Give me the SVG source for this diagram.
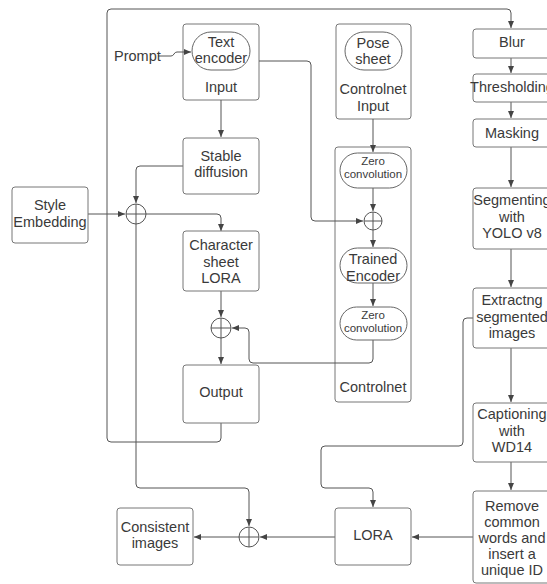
<svg xmlns="http://www.w3.org/2000/svg" width="547" height="584" viewBox="0 0 547 584">
<style>
.box{fill:#fff;stroke:#777;stroke-width:1}
.cont{fill:none;stroke:#777;stroke-width:1}
.ell{fill:#fff;stroke:#666;stroke-width:1}
.ln{fill:none;stroke:#555;stroke-width:1}
.sum{fill:#fff;stroke:#555;stroke-width:1}
text{font-family:"Liberation Sans",Arial,sans-serif;font-size:14.5px;fill:#3a3a3a;text-anchor:middle}
.sm{font-size:11.5px}
.lt{text-anchor:start}
</style>
<defs>
<marker id="ah" markerWidth="8" markerHeight="8" refX="7" refY="4" orient="auto" markerUnits="userSpaceOnUse">
<path d="M0,1 L7,4 L0,7 z" fill="#444"/>
</marker>
</defs>
<rect width="547" height="584" fill="#fff"/>

<g id="input">
<rect class="cont" x="183" y="24" width="76" height="76" rx="3"/>
<text x="221" y="92">Input</text>
</g>
<g id="controlnet-input">
<rect class="cont" x="336" y="24" width="75" height="95" rx="3"/>
<text x="373" y="94">Controlnet</text>
<text x="373" y="111">Input</text>
</g>
<g id="controlnet">
<rect class="cont" x="335" y="147" width="76" height="255" rx="3"/>
<text x="373" y="392">Controlnet</text>
</g>

<g id="connectors">
<path class="ln" d="M221,423 V438 Q221,442 217,442 H111 Q107,442 107,438 V13 Q107,9 111,9 H507 Q511,9 511,13 V28" marker-end="url(#ah)"/>
<path class="ln" d="M158,56 H171 Q173,56 174,54 Q175,52 177,52 H191" marker-end="url(#ah)"/>
<path class="ln" d="M221,100 V137" marker-end="url(#ah)"/>
<path class="ln" d="M183,166 H140 Q136,166 136,170 V203" marker-end="url(#ah)"/>
<path class="ln" d="M88,214 H125" marker-end="url(#ah)"/>
<path class="ln" d="M146,214 H217 Q221,214 221,218 V231" marker-end="url(#ah)"/>
<path class="ln" d="M221,291 V317" marker-end="url(#ah)"/>
<path class="ln" d="M221,338 V364" marker-end="url(#ah)"/>
<path class="ln" d="M373,340 V359 Q373,363 369,363 H253 Q249,363 249,359 V332 Q249,328 245,328 H232" marker-end="url(#ah)"/>
<path class="ln" d="M136,224 V484 Q136,488 140,488 H245 Q249,488 249,492 V526" marker-end="url(#ah)"/>
<path class="ln" d="M239,537 H194" marker-end="url(#ah)"/>
<path class="ln" d="M335,537 H260" marker-end="url(#ah)"/>
<path class="ln" d="M473,537 H412" marker-end="url(#ah)"/>
<path class="ln" d="M259,61 H307 Q311,61 311,65 V217 Q311,221 315,221 H363" marker-end="url(#ah)"/>
<path class="ln" d="M373,119 V152" marker-end="url(#ah)"/>
<path class="ln" d="M373,188 V211" marker-end="url(#ah)"/>
<path class="ln" d="M373,230 V247" marker-end="url(#ah)"/>
<path class="ln" d="M373,283 V306" marker-end="url(#ah)"/>
<path class="ln" d="M511,58 V73" marker-end="url(#ah)"/>
<path class="ln" d="M511,102 V118" marker-end="url(#ah)"/>
<path class="ln" d="M511,147 V187" marker-end="url(#ah)"/>
<path class="ln" d="M511,249 V287" marker-end="url(#ah)"/>
<path class="ln" d="M511,348 V402" marker-end="url(#ah)"/>
<path class="ln" d="M511,462 V490" marker-end="url(#ah)"/>
<path class="ln" d="M473,318 H467 Q463,318 463,322 V442 Q463,446 459,446 H325 Q321,446 321,450 V484 Q321,488 325,488 H369 Q373,488 373,492 V507" marker-end="url(#ah)"/>
</g>

<g id="prompt"><text class="lt" x="114" y="61">Prompt</text></g>

<g id="text-encoder">
<rect class="ell" x="192" y="32" width="58" height="38" rx="19"/>
<text x="221" y="47">Text</text>
<text x="221" y="63">encoder</text>
</g>

<g id="stable-diffusion">
<rect class="box" x="183" y="138" width="76" height="56" rx="3"/>
<text x="221" y="161">Stable</text>
<text x="221" y="177">diffusion</text>
</g>

<g id="style-embedding">
<rect class="box" x="12" y="187" width="76" height="56" rx="3"/>
<text x="50" y="210">Style</text>
<text x="50" y="227">Embedding</text>
</g>

<g id="sum1"><circle class="sum" cx="136" cy="214" r="10"/><path class="ln" d="M126,214 H146 M136,204 V224"/></g>

<g id="character-sheet-lora">
<rect class="box" x="183" y="231" width="76" height="60" rx="3"/>
<text x="221" y="250">Character</text>
<text x="221" y="267">sheet</text>
<text x="221" y="283">LORA</text>
</g>

<g id="sum2"><circle class="sum" cx="221" cy="328" r="10"/><path class="ln" d="M211,328 H231 M221,318 V338"/></g>

<g id="output">
<rect class="box" x="183" y="365" width="76" height="58" rx="3"/>
<text x="221" y="397">Output</text>
</g>

<g id="pose-sheet">
<rect class="ell" x="345" y="32" width="57" height="38" rx="19"/>
<text x="373" y="48">Pose</text>
<text x="373" y="64">sheet</text>
</g>

<g id="zero-conv-1">
<rect class="ell" x="340" y="153" width="67" height="35" rx="17.5"/>
<text class="sm" x="373" y="165">Zero</text>
<text class="sm" x="373" y="178">convolution</text>
</g>
<g id="sum3"><circle class="sum" cx="373" cy="221" r="9"/><path class="ln" d="M364,221 H382 M373,212 V230"/></g>
<g id="trained-encoder">
<rect class="ell" x="340" y="248" width="67" height="35" rx="17.5"/>
<text x="373" y="264">Trained</text>
<text x="373" y="281">Encoder</text>
</g>
<g id="zero-conv-2">
<rect class="ell" x="340" y="307" width="67" height="33" rx="16.5"/>
<text class="sm" x="373" y="319">Zero</text>
<text class="sm" x="373" y="332">convolution</text>
</g>

<g id="blur">
<rect class="box" x="473" y="29" width="78" height="29" rx="3"/>
<text x="512" y="47">Blur</text>
</g>
<g id="thresholding">
<rect class="box" x="473" y="74" width="78" height="28" rx="3"/>
<text x="512" y="92">Thresholding</text>
</g>
<g id="masking">
<rect class="box" x="473" y="119" width="78" height="28" rx="3"/>
<text x="512" y="138">Masking</text>
</g>
<g id="segmenting">
<rect class="box" x="473" y="188" width="78" height="61" rx="3"/>
<text x="512" y="205">Segmenting</text>
<text x="512" y="222">with</text>
<text x="512" y="238">YOLO v8</text>
</g>
<g id="extracting">
<rect class="box" x="473" y="288" width="78" height="60" rx="3"/>
<text x="512" y="305">Extractng</text>
<text x="512" y="322">segmented</text>
<text x="512" y="338">images</text>
</g>
<g id="captioning">
<rect class="box" x="473" y="403" width="78" height="59" rx="3"/>
<text x="512" y="419">Captioning</text>
<text x="512" y="436">with</text>
<text x="512" y="452">WD14</text>
</g>
<g id="remove-words">
<rect class="box" x="473" y="491" width="78" height="92" rx="3"/>
<text x="512" y="511">Remove</text>
<text x="512" y="527">common</text>
<text x="512" y="543">words and</text>
<text x="512" y="559">insert a</text>
<text x="512" y="575">unique ID</text>
</g>

<g id="lora">
<rect class="box" x="335" y="508" width="76" height="57" rx="3"/>
<text x="373" y="540">LORA</text>
</g>
<g id="sum4"><circle class="sum" cx="249" cy="537" r="10"/><path class="ln" d="M239,537 H259 M249,527 V547"/></g>
<g id="consistent-images">
<rect class="box" x="117" y="508" width="76" height="57" rx="3"/>
<text x="155" y="532">Consistent</text>
<text x="155" y="548">images</text>
</g>
</svg>
